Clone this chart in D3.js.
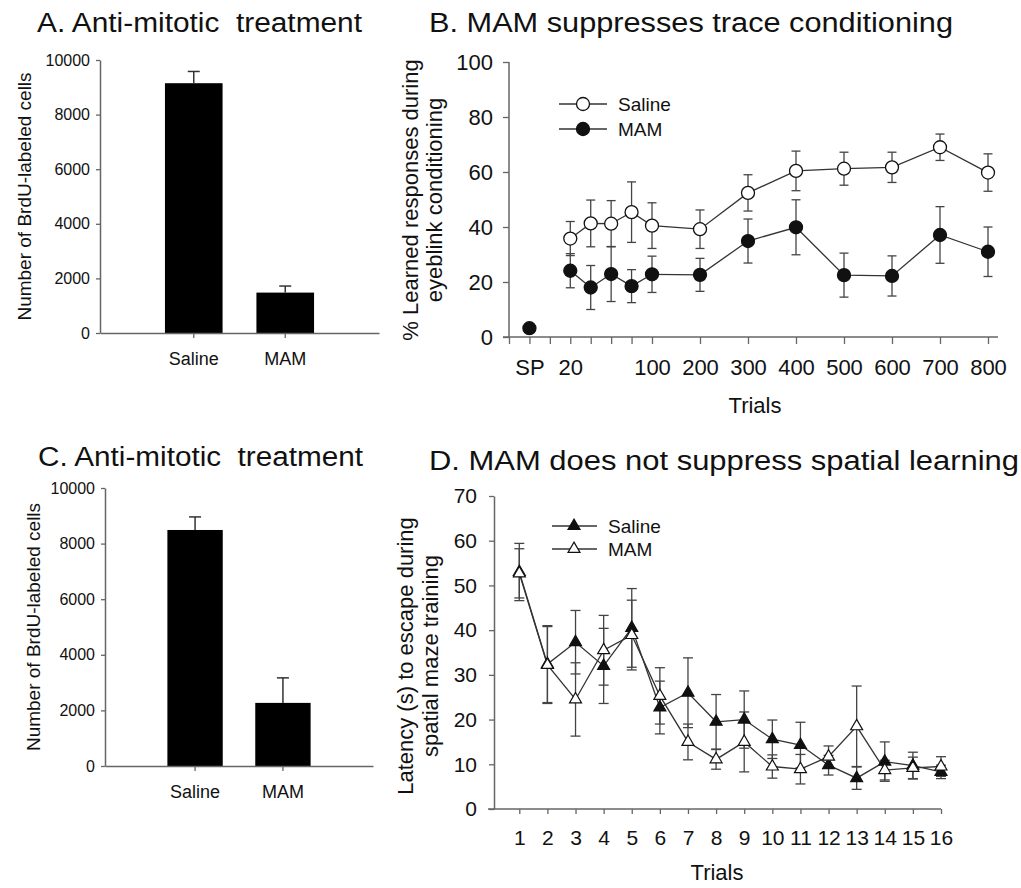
<!DOCTYPE html>
<html>
<head>
<meta charset="utf-8">
<script src="https://cdn.jsdelivr.net/npm/d3@7"></script>
<style>
body { margin: 0; background: #fff; }
text { font-family: "Liberation Sans", Arial, sans-serif; fill: #111; }
</style>
</head>
<body>
<script>
// bar panels (A and C)
var groups = ["Saline", "MAM"];
var aCells = [9150, 1480];
var aErr = [430, 240];
var cCells = [8490, 2270];
var cErr = [470, 900];
var cellTicks = [0, 2000, 4000, 6000, 8000, 10000];

// panel B, eyeblink conditioning
var bTrialLabels = ["SP", "20", "40", "60", "80", "100", "200", "300", "400", "500", "600", "700", "800"];
var bTrialPos = [-20, 20, 40, 60, 80, 100, 200, 300, 400, 500, 600, 700, 800];
var bTickPos = [-40, -20, 0, 20, 40, 60, 80, 100, 200, 300, 400, 500, 600, 700, 800];
var bShown = ["SP", "20", "100", "200", "300", "400", "500", "600", "700", "800"];
var bSaline = [null, 35.8, 41.3, 41.2, 45.4, 40.5, 39.2, 52.4, 60.4, 61.2, 61.7, 69.0, 59.8];
var bSalineErr = [null, 6.2, 8.5, 8.4, 11.0, 8.3, 7.0, 6.6, 7.2, 6.0, 5.5, 4.8, 6.8];
var bMam = [3.2, 24.1, 18.0, 22.9, 18.5, 22.8, 22.6, 34.9, 39.9, 22.5, 22.2, 37.1, 31.0];
var bMamErr = [0, 6.2, 8.0, 10.0, 6.0, 6.6, 6.0, 8.0, 10.0, 8.0, 7.3, 10.3, 9.0];
var bYTicks = [0, 20, 40, 60, 80, 100];

// panel D, spatial maze
var dTrials = [1, 2, 3, 4, 5, 6, 7, 8, 9, 10, 11, 12, 13, 14, 15, 16];
var dSaline = [53.0, 32.4, 37.3, 32.0, 40.5, 22.7, 26.0, 19.5, 20.0, 15.6, 14.3, 9.8, 6.9, 10.6, 9.7, 8.3];
var dSalineErr = [6.4, 8.6, 7.1, 8.4, 8.8, 5.9, 7.8, 6.1, 6.4, 4.3, 5.1, 2.2, 2.5, 4.4, 3.0, 1.5];
var dMam = [52.7, 32.2, 24.5, 35.5, 38.9, 25.3, 15.0, 11.1, 15.0, 9.5, 8.9, 11.7, 18.5, 8.7, 9.2, 9.5];
var dMamErr = [5.5, 8.6, 8.2, 7.8, 7.8, 6.3, 4.0, 2.2, 6.7, 2.6, 3.3, 2.4, 9.0, 2.2, 2.4, 2.2];
var dYTicks = [0, 10, 20, 30, 40, 50, 60, 70];

var axisColor = "#666";
var lineColor = "#333";

var svg = d3.select("body").append("svg")
    .attr("width", 1021)
    .attr("height", 888);

svg.append("rect")
    .attr("width", 1021)
    .attr("height", 888)
    .attr("fill", "#fff");

function styleAxis(g, size) {
    g.attr("font-size", size)
        .attr("font-family", "Liberation Sans, Arial, sans-serif");
    g.selectAll("line").attr("stroke", axisColor).attr("stroke-width", 1.3);
    g.selectAll(".domain").attr("stroke", axisColor).attr("stroke-width", 1.5);
    g.selectAll("text").attr("fill", "#111");
}

function title(txt, x, y, w) {
    svg.append("text")
        .attr("x", x)
        .attr("y", y)
        .attr("font-size", 27)
        .attr("textLength", w)
        .attr("lengthAdjust", "spacingAndGlyphs")
        .style("white-space", "pre")
        .text(txt);
}

function yLabel(lines, x0, cy, size, gap) {
    lines.forEach(function (t, i) {
        svg.append("text")
            .attr("transform", "translate(" + (x0 + i * gap) + "," + cy + ") rotate(-90)")
            .attr("text-anchor", "middle")
            .attr("font-size", size)
            .text(t);
    });
}

function drawBars(p) {
    var y = d3.scaleLinear().domain([0, 10000]).range([p.bottom, p.top]);
    var x = d3.scaleBand().domain(groups).range([p.left, p.right])
        .paddingInner(0.37).paddingOuter(0.71);

    var g = svg.append("g");

    g.selectAll("rect.bar")
        .data(p.values)
        .join("rect")
        .attr("class", "bar")
        .attr("x", function (d, i) { return x(groups[i]); })
        .attr("width", x.bandwidth())
        .attr("y", function (d) { return y(d); })
        .attr("height", function (d) { return y(0) - y(d); })
        .attr("fill", "#000");

    var cx = function (i) { return x(groups[i]) + x.bandwidth() / 2; };

    g.selectAll("line.err")
        .data(p.values)
        .join("line")
        .attr("class", "err")
        .attr("x1", function (d, i) { return cx(i); })
        .attr("x2", function (d, i) { return cx(i); })
        .attr("y1", function (d) { return y(d); })
        .attr("y2", function (d, i) { return y(d + p.errs[i]); })
        .attr("stroke", lineColor)
        .attr("stroke-width", 1.5);

    g.selectAll("line.cap")
        .data(p.values)
        .join("line")
        .attr("class", "cap")
        .attr("x1", function (d, i) { return cx(i) - 6; })
        .attr("x2", function (d, i) { return cx(i) + 6; })
        .attr("y1", function (d, i) { return y(d + p.errs[i]); })
        .attr("y2", function (d, i) { return y(d + p.errs[i]); })
        .attr("stroke", lineColor)
        .attr("stroke-width", 1.5);

    var ya = g.append("g")
        .attr("transform", "translate(" + p.left + ",0)")
        .call(d3.axisLeft(y).tickValues(cellTicks).tickSize(4).tickSizeOuter(0)
            .tickPadding(6).tickFormat(d3.format("d")));
    styleAxis(ya, 16);

    var xa = g.append("g")
        .attr("transform", "translate(0," + p.bottom + ")")
        .call(d3.axisBottom(x).tickSize(5).tickSizeOuter(0));
    styleAxis(xa, 18);
    xa.selectAll("text").attr("y", 32).attr("dy", 0);

    title(p.title, p.titleX, p.titleY, 325);
    yLabel(["Number of BrdU-labeled cells"], p.labelX, (p.top + p.bottom) / 2, 19, 0);
}

drawBars({
    values: aCells, errs: aErr,
    left: 100, right: 379, top: 60, bottom: 333,
    title: "A. Anti-mitotic  treatment", titleX: 37, titleY: 32,
    labelX: 31
});

drawBars({
    values: cCells, errs: cErr,
    left: 105, right: 373, top: 488, bottom: 766,
    title: "C. Anti-mitotic  treatment", titleX: 38, titleY: 466,
    labelX: 40
});

// ---------- panel B ----------
var bx = d3.scaleLinear().domain([-40, 100, 800]).range([509, 652, 988]);
var by = d3.scaleLinear().domain([0, 100]).range([337, 62]);
var gB = svg.append("g");

var salinePts = bTrialPos.map(function (t, i) {
    return { t: t, v: bSaline[i], e: bSalineErr[i] };
}).filter(function (d) { return d.v !== null; });
var mamPts = bTrialPos.map(function (t, i) {
    return { t: t, v: bMam[i], e: bMamErr[i] };
});

function errorBars(g, pts, x, y, cap) {
    var eb = g.append("g").attr("stroke", "#444").attr("stroke-width", 1.3);
    pts.filter(function (d) { return d.e > 0; }).forEach(function (d) {
        var px = x(d.t);
        eb.append("line").attr("x1", px).attr("x2", px)
            .attr("y1", y(d.v - d.e)).attr("y2", y(d.v + d.e));
        eb.append("line").attr("x1", px - cap).attr("x2", px + cap)
            .attr("y1", y(d.v + d.e)).attr("y2", y(d.v + d.e));
        eb.append("line").attr("x1", px - cap).attr("x2", px + cap)
            .attr("y1", y(d.v - d.e)).attr("y2", y(d.v - d.e));
    });
}

var bLine = d3.line()
    .x(function (d) { return bx(d.t); })
    .y(function (d) { return by(d.v); });

// axes
var bya = gB.append("g")
    .attr("transform", "translate(509,0)")
    .call(d3.axisLeft(by).tickValues(bYTicks).tickSize(6).tickSizeOuter(0).tickPadding(10));
styleAxis(bya, 22);
bya.select(".domain").attr("d", "M0,337V62");

var bxa = gB.append("g")
    .attr("transform", "translate(0,337)")
    .call(d3.axisBottom(bx).tickValues(bTickPos).tickSize(7).tickSizeOuter(0)
        .tickFormat(function (t) {
            var i = bTrialPos.indexOf(t);
            if (i < 0) return "";
            return bShown.indexOf(bTrialLabels[i]) >= 0 ? bTrialLabels[i] : "";
        }));
styleAxis(bxa, 22);
bxa.select(".domain").attr("d", "M503,0H998");
bxa.selectAll("text").attr("y", 38).attr("dy", 0);

errorBars(gB, salinePts, bx, by, 4.5);
errorBars(gB, mamPts, bx, by, 4.5);

gB.append("path")
    .datum(salinePts)
    .attr("d", bLine)
    .attr("fill", "none")
    .attr("stroke", lineColor)
    .attr("stroke-width", 1.3);

gB.append("path")
    .datum(mamPts.slice(1))
    .attr("d", bLine)
    .attr("fill", "none")
    .attr("stroke", lineColor)
    .attr("stroke-width", 1.3);

gB.selectAll("circle.sal")
    .data(salinePts)
    .join("circle")
    .attr("class", "sal")
    .attr("cx", function (d) { return bx(d.t); })
    .attr("cy", function (d) { return by(d.v); })
    .attr("r", 6.5)
    .attr("fill", "#fff")
    .attr("stroke", "#111")
    .attr("stroke-width", 1.3);

gB.selectAll("circle.mam")
    .data(mamPts)
    .join("circle")
    .attr("class", "mam")
    .attr("cx", function (d) { return bx(d.t); })
    .attr("cy", function (d) { return by(d.v); })
    .attr("r", 6.5)
    .attr("fill", "#111")
    .attr("stroke", "#111")
    .attr("stroke-width", 1.3);

// legend B
[["Saline", "#fff", 104], ["MAM", "#111", 129]].forEach(function (l) {
    gB.append("line").attr("x1", 559).attr("x2", 607).attr("y1", l[2]).attr("y2", l[2])
        .attr("stroke", lineColor).attr("stroke-width", 1.3);
    gB.append("circle").attr("cx", 583).attr("cy", l[2]).attr("r", 6.5)
        .attr("fill", l[1]).attr("stroke", "#111").attr("stroke-width", 1.3);
    gB.append("text").attr("x", 618).attr("y", l[2] + 7).attr("font-size", 19).text(l[0]);
});

title("B. MAM suppresses trace conditioning", 429, 32, 524);
yLabel(["% Learned responses during", "eyeblink conditioning"], 418, 200, 22, 24);
svg.append("text").attr("x", 755).attr("y", 413).attr("text-anchor", "middle")
    .attr("font-size", 22).text("Trials");

// ---------- panel D ----------
var dx = d3.scaleLinear().domain([0.1, 16]).range([494, 941]);
var dy = d3.scaleLinear().domain([0, 70]).range([809, 496]);
var gD = svg.append("g");

var dSalPts = dTrials.map(function (t, i) { return { t: t, v: dSaline[i], e: dSalineErr[i] }; });
var dMamPts = dTrials.map(function (t, i) { return { t: t, v: dMam[i], e: dMamErr[i] }; });

var dya = gD.append("g")
    .attr("transform", "translate(494,0)")
    .call(d3.axisLeft(dy).tickValues(dYTicks).tickSize(5).tickSizeOuter(0).tickPadding(12));
styleAxis(dya, 21);

var dxa = gD.append("g")
    .attr("transform", "translate(0,809)")
    .call(d3.axisBottom(dx).tickValues(dTrials).tickSize(5).tickSizeOuter(0).tickFormat(d3.format("d")));
styleAxis(dxa, 21);
dxa.select(".domain").attr("d", "M488,0H941");
dxa.selectAll("text").attr("y", 36).attr("dy", 0);

errorBars(gD, dSalPts, dx, dy, 5);
errorBars(gD, dMamPts, dx, dy, 5);

var dLine = d3.line()
    .x(function (d) { return dx(d.t); })
    .y(function (d) { return dy(d.v); });

[dSalPts, dMamPts].forEach(function (pts) {
    gD.append("path")
        .datum(pts)
        .attr("d", dLine)
        .attr("fill", "none")
        .attr("stroke", lineColor)
        .attr("stroke-width", 1.3);
});

var tri = d3.symbol().type(d3.symbolTriangle).size(62);

gD.selectAll("path.sal")
    .data(dSalPts)
    .join("path")
    .attr("class", "sal")
    .attr("d", tri)
    .attr("transform", function (d) { return "translate(" + dx(d.t) + "," + dy(d.v) + ")"; })
    .attr("fill", "#111")
    .attr("stroke", "#111")
    .attr("stroke-width", 1.2);

gD.selectAll("path.mam")
    .data(dMamPts)
    .join("path")
    .attr("class", "mam")
    .attr("d", tri)
    .attr("transform", function (d) { return "translate(" + dx(d.t) + "," + dy(d.v) + ")"; })
    .attr("fill", "#fff")
    .attr("stroke", "#111")
    .attr("stroke-width", 1.2);

// legend D
[["Saline", "#111", 526], ["MAM", "#fff", 549]].forEach(function (l) {
    gD.append("line").attr("x1", 552).attr("x2", 597).attr("y1", l[2]).attr("y2", l[2])
        .attr("stroke", lineColor).attr("stroke-width", 1.3);
    gD.append("path").attr("d", tri).attr("transform", "translate(574," + l[2] + ")")
        .attr("fill", l[1]).attr("stroke", "#111").attr("stroke-width", 1.2);
    gD.append("text").attr("x", 608).attr("y", l[2] + 7).attr("font-size", 19).text(l[0]);
});

title("D. MAM does not suppress spatial learning", 429, 470, 590);
yLabel(["Latency (s) to escape during", "spatial maze training"], 413, 656, 22, 25);
svg.append("text").attr("x", 717).attr("y", 880).attr("text-anchor", "middle")
    .attr("font-size", 22).text("Trials");
</script>
</body>
</html>
